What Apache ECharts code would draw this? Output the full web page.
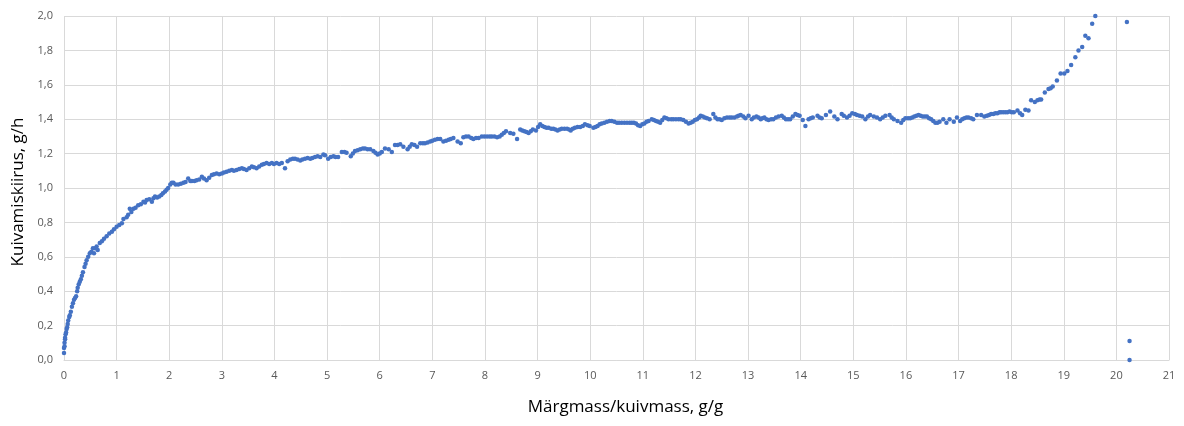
<!DOCTYPE html>
<html>
<head>
<meta charset="utf-8">
<script src="https://cdn.jsdelivr.net/npm/echarts@6/dist/echarts.min.js"></script>
<style>
  html, body { margin: 0; padding: 0; background: #ffffff; }
  #chart { width: 1184px; height: 426px; }
</style>
</head>
<body>
<div id="chart"></div>
<script>
// Drying rate (g/h) against the wet/dry mass ratio (g/g), as [ratio, rate] pairs.
const fallingRateStart = [
  [0.00,0.04],[0.00,0.07],[0.01,0.08],[0.01,0.10],[0.02,0.12],[0.02,0.13],[0.03,0.15],[0.04,0.16],
  [0.05,0.18],[0.06,0.19],[0.07,0.21],[0.08,0.23],[0.10,0.25],[0.11,0.26],[0.13,0.28],[0.15,0.31],
  [0.17,0.33],[0.19,0.35],[0.21,0.36],[0.23,0.37],[0.25,0.40],[0.26,0.42],[0.28,0.44],[0.30,0.455],
  [0.32,0.47],[0.34,0.49],[0.36,0.51],[0.39,0.54],[0.41,0.56],[0.43,0.58],[0.46,0.60],[0.49,0.62],
  [0.52,0.63],[0.55,0.65],[0.57,0.62],[0.59,0.65],[0.62,0.66],[0.64,0.64],[0.68,0.68],[0.72,0.69],[0.76,0.705],
  [0.81,0.72],[0.86,0.735],[0.91,0.745],[0.95,0.76],[1.00,0.775],[1.05,0.785],[1.10,0.795],[1.13,0.82],
  [1.19,0.83],[1.22,0.845],[1.25,0.88],[1.28,0.86],[1.32,0.88],[1.36,0.885],[1.41,0.90],[1.46,0.905],
  [1.51,0.92],[1.54,0.915],[1.57,0.93],[1.62,0.935],[1.67,0.92],[1.70,0.94],[1.73,0.95],[1.77,0.945],
  [1.81,0.95],[1.85,0.96],[1.88,0.97],[1.92,0.98],[1.95,0.99],[1.98,1.00]
];

const slowRisePhase = [
  [2.02,1.02],[2.05,1.03],[2.08,1.03],[2.12,1.02],[2.17,1.02],[2.22,1.025],[2.27,1.03],[2.31,1.035],
  [2.36,1.055],[2.40,1.04],[2.43,1.04],[2.48,1.04],[2.52,1.045],[2.57,1.05],[2.62,1.065],[2.66,1.055],
  [2.71,1.045],[2.76,1.06],[2.81,1.075],[2.85,1.08],[2.90,1.085],[2.95,1.08],[3.00,1.085],[3.04,1.09],
  [3.09,1.095],[3.14,1.10],[3.19,1.105],[3.23,1.10],[3.28,1.105],[3.33,1.11],[3.38,1.115],[3.42,1.11],
  [3.47,1.105],[3.52,1.115],[3.57,1.125],[3.61,1.12],[3.66,1.115],[3.71,1.125],[3.76,1.135],[3.80,1.14],
  [3.85,1.145],[3.90,1.14],[3.95,1.145],[3.99,1.14],[4.04,1.145],[4.09,1.14],[4.14,1.145],[4.20,1.115],
  [4.25,1.155],[4.30,1.165],[4.35,1.17],[4.39,1.17],[4.44,1.165],[4.49,1.16],[4.53,1.165],[4.58,1.17],
  [4.63,1.175],[4.68,1.17],[4.72,1.175],[4.77,1.18],[4.82,1.185],[4.87,1.18],[4.93,1.195],[4.96,1.19],
  [5.02,1.17],[5.07,1.18],[5.12,1.185],[5.16,1.18],[5.21,1.18],[5.28,1.21],[5.33,1.21],[5.37,1.205],
  [5.45,1.185],[5.49,1.20],[5.53,1.215],[5.58,1.22],[5.63,1.225],[5.68,1.23],[5.72,1.23],[5.77,1.225],
  [5.82,1.225],[5.88,1.215],[5.92,1.205],[5.96,1.195],[6.00,1.20],[6.04,1.21],[6.10,1.23],[6.17,1.225],
  [6.23,1.21],[6.29,1.25],[6.34,1.25],[6.39,1.255],[6.45,1.24],[6.53,1.225],[6.57,1.24],[6.61,1.255],
  [6.66,1.25],[6.71,1.24],[6.77,1.26],[6.82,1.26],[6.86,1.26],[6.91,1.265],[6.96,1.27],[7.00,1.275],
  [7.05,1.28],[7.10,1.285],[7.15,1.285],[7.21,1.27],[7.26,1.275],[7.31,1.28],[7.35,1.285],[7.40,1.29],
  [7.48,1.27],[7.54,1.26],[7.59,1.295],[7.64,1.30],[7.69,1.30],[7.74,1.29],[7.78,1.285],[7.83,1.29],
  [7.88,1.29],[7.94,1.30],[7.99,1.30],[8.04,1.30],[8.09,1.30],[8.13,1.30],[8.18,1.30],[8.23,1.295],
  [8.28,1.30],[8.32,1.31],[8.36,1.32],[8.40,1.33],[8.48,1.32],[8.54,1.315],[8.61,1.285],[8.67,1.34],
  [8.71,1.335],[8.75,1.33],[8.79,1.325],[8.83,1.32],[8.87,1.33],[8.91,1.34],[8.97,1.335],[9.01,1.355],
  [9.05,1.37],[9.09,1.36],[9.13,1.355],[9.17,1.35],[9.21,1.35],[9.26,1.345],[9.30,1.345],[9.34,1.34],
  [9.38,1.335],[9.42,1.34],[9.46,1.345],[9.51,1.345],[9.56,1.345],[9.60,1.34],[9.63,1.335],[9.67,1.345],
  [9.71,1.35],[9.76,1.355],[9.81,1.355],[9.86,1.36],[9.90,1.37],[9.95,1.365],[9.99,1.36]
];

const constantRatePhase = [
  [10.06,1.35],[10.10,1.355],[10.14,1.36],[10.18,1.37],[10.22,1.375],[10.27,1.38],[10.32,1.385],[10.37,1.39],
  [10.41,1.39],[10.46,1.385],[10.51,1.38],[10.55,1.38],[10.60,1.38],[10.65,1.38],[10.70,1.38],[10.75,1.38],
  [10.79,1.38],[10.83,1.38],[10.87,1.375],[10.91,1.365],[10.95,1.36],[10.99,1.37],[11.03,1.375],[11.07,1.385],
  [11.11,1.39],[11.17,1.40],[11.21,1.395],[11.25,1.39],[11.29,1.385],[11.33,1.38],[11.37,1.395],[11.41,1.41],
  [11.45,1.405],[11.49,1.40],[11.54,1.40],[11.58,1.40],[11.63,1.40],[11.68,1.40],[11.72,1.40],[11.77,1.395],
  [11.82,1.385],[11.87,1.375],[11.91,1.38],[11.95,1.385],[11.99,1.395],[12.03,1.40],[12.07,1.41],[12.10,1.42],
  [12.14,1.415],[12.18,1.41],[12.22,1.405],[12.27,1.40],[12.34,1.43],[12.38,1.41],[12.42,1.40],[12.46,1.40],
  [12.50,1.395],[12.55,1.405],[12.60,1.41],[12.65,1.41],[12.69,1.41],[12.74,1.41],[12.79,1.415],[12.82,1.42],
  [12.86,1.425],[12.91,1.415],[12.95,1.405],[13.01,1.42],[13.07,1.40],[13.11,1.41],[13.16,1.415],[13.20,1.41],
  [13.24,1.40],[13.27,1.405],[13.31,1.41],[13.35,1.40],[13.39,1.395],[13.44,1.40],[13.48,1.40],[13.53,1.41],
  [13.58,1.415],[13.64,1.42],[13.68,1.41],[13.72,1.40],[13.76,1.40],[13.80,1.40],[13.85,1.415],[13.90,1.43],
  [13.94,1.425],[13.98,1.42],[14.04,1.395],[14.09,1.36],[14.15,1.40],[14.19,1.405],[14.23,1.41],[14.32,1.42],
  [14.36,1.41],[14.40,1.405],[14.48,1.425],[14.56,1.445],[14.64,1.415],[14.70,1.40],[14.78,1.43],[14.82,1.42],
  [14.88,1.41],[14.93,1.42],[14.98,1.435],[15.03,1.43],[15.07,1.425],[15.12,1.42],[15.17,1.415],[15.23,1.40],
  [15.28,1.415],[15.32,1.425],[15.39,1.415],[15.45,1.41],[15.51,1.40],[15.56,1.41],[15.61,1.42],[15.69,1.425],
  [15.73,1.41],[15.77,1.40],[15.84,1.39],[15.91,1.38],[15.95,1.395],[15.99,1.405],[16.04,1.405],[16.08,1.405],
  [16.12,1.41],[16.16,1.415],[16.20,1.42],[16.24,1.425],[16.28,1.42],[16.32,1.415],[16.36,1.415],[16.40,1.415],
  [16.44,1.405],[16.48,1.40],[16.52,1.39],[16.56,1.38],[16.60,1.38],[16.64,1.385],[16.71,1.40],[16.77,1.38],
  [16.83,1.40],[16.91,1.385],[16.97,1.41],[17.03,1.39],[17.07,1.40],[17.11,1.405],[17.15,1.41],[17.19,1.41],
  [17.24,1.405],[17.28,1.40],[17.35,1.425],[17.43,1.425],[17.49,1.415],[17.54,1.42],[17.58,1.425],[17.62,1.43],
  [17.66,1.43],[17.70,1.435],[17.74,1.435],[17.78,1.44],[17.81,1.44],[17.85,1.44],[17.89,1.44],[17.93,1.44],
  [17.97,1.445],[18.01,1.44],[18.05,1.44],[18.12,1.45],[18.17,1.435],[18.21,1.425],[18.27,1.455],[18.33,1.45]
];

const surfaceWaterPhase = [
  [18.38,1.51],[18.45,1.50],[18.50,1.51],[18.54,1.515],[18.57,1.515],[18.64,1.555],[18.71,1.575],[18.75,1.58],
  [18.79,1.59],[18.87,1.625],[18.94,1.665],[19.01,1.665],[19.07,1.68],[19.14,1.715],[19.22,1.76],[19.28,1.80],
  [19.35,1.82],[19.41,1.885],[19.47,1.87],[19.54,1.955],[19.60,2.0],[20.20,1.965],[20.25,0.11],[20.25,0.0]
];

const xTickLabels = ['0','1','2','3','4','5','6','7','8','9','10','11','12','13','14','15','16','17','18','19','20','21'];
const yTickLabels = ['0,0','0,2','0,4','0,6','0,8','1,0','1,2','1,4','1,6','1,8','2,0'];

const xAxisTitle = 'Märgmass/kuivmass, g/g';
const yAxisTitle = 'Kuivamiskiirus, g/h';

const allPoints = fallingRateStart.concat(slowRisePhase, constantRatePhase, surfaceWaterPhase);

const gridColor = '#d9d9d9';
const tickColor = '#595959';
const labelFont = 'Open Sans, Liberation Sans, sans-serif';

const chart = echarts.init(document.getElementById('chart'), null, { renderer: 'canvas' });
chart.setOption({
  animation: false,
  backgroundColor: '#ffffff',
  grid: { left: 64, right: 15, top: 16, bottom: 66, containLabel: false },
  xAxis: {
    type: 'value',
    min: 0, max: 21, interval: 1,
    name: xAxisTitle,
    nameLocation: 'middle',
    nameGap: 39,
    nameTextStyle: { color: '#000000', fontSize: 17, fontFamily: labelFont, padding: [0, 0, 0, 18] },
    axisLine: { show: true, lineStyle: { color: gridColor, width: 1 } },
    axisTick: { show: false },
    axisLabel: {
      color: tickColor, fontSize: 11, fontFamily: labelFont, margin: 10,
      formatter: function (v) { return xTickLabels[Math.round(v)]; }
    },
    splitLine: { show: true, lineStyle: { color: gridColor, width: 1 } }
  },
  yAxis: {
    type: 'value',
    min: 0, max: 2, interval: 0.2,
    name: yAxisTitle,
    nameLocation: 'middle',
    nameGap: 27,
    nameTextStyle: { color: '#000000', fontSize: 17, fontFamily: labelFont, padding: [0, 8, 0, 0] },
    axisLine: { show: false },
    axisTick: { show: false },
    axisLabel: {
      color: tickColor, fontSize: 11, fontFamily: labelFont, margin: 11,
      formatter: function (v) { return yTickLabels[Math.round(v / 0.2)]; }
    },
    splitLine: { show: true, lineStyle: { color: gridColor, width: 1 } }
  },
  series: [{
    type: 'scatter',
    data: allPoints,
    symbol: 'circle',
    symbolSize: 4.5,
    clip: false,
    itemStyle: { color: '#4472C4', opacity: 1 }
  }]
});
</script>
</body>
</html>
